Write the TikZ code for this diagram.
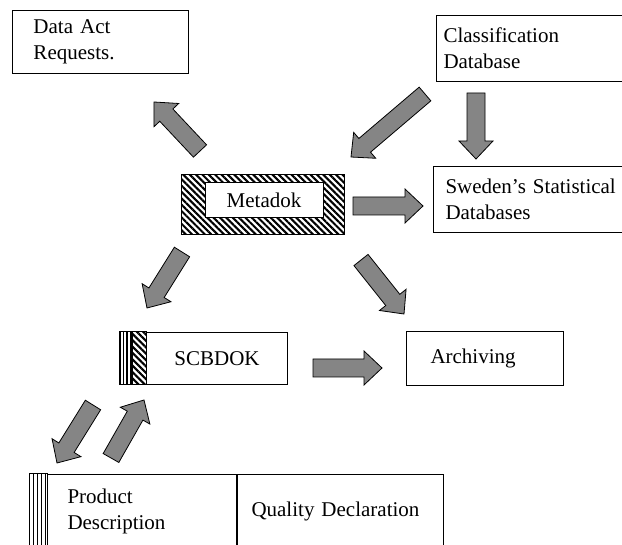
\documentclass[tikz,border=0pt]{standalone}
\usepackage{fontspec}
\setmainfont{Liberation Serif}
\usetikzlibrary{calc,patterns.meta}
\tikzset{
  box/.style={draw, line width=1pt, anchor=north west, align=left, font=\fontsize{21}{26}\selectfont},
  fat/.style={draw=black, fill=black!48, line width=0.8pt, line join=miter},
  hatch/.style={draw, line width=1pt, pattern={Lines[angle=-45,distance=4.5pt,line width=2.1pt]}},
  stripe/.style={line width=1.6pt}
}
\def\fatarrow(#1)(#2){%
  \path ($(#2)!18pt!(#1)$) coordinate (fa-h);
  \draw[fat] ($(#1)!9pt!90:(#2)$) -- ($(fa-h)!9pt!90:(#2)$) -- ($(fa-h)!17pt!90:(#2)$) -- (#2)
    -- ($(fa-h)!17pt!-90:(#2)$) -- ($(fa-h)!9pt!-90:(#2)$) -- ($(#1)!9pt!-90:(#2)$) -- cycle;}

\begin{document}
\begin{tikzpicture}[x=1pt,y=-1pt]
		%%%%% START %%%%%
		\clip (0,0) rectangle (622,545);
		\fill[white] (0,0) rectangle (622,545);
		
		\node[box, minimum width=176pt, minimum height=63pt, inner xsep=21pt, text width=134pt] (dar) at (12,10) {Data Act\\Requests.};
		\node[box, minimum width=220pt, minimum height=66pt, inner xsep=7pt, text width=206pt] (cls) at (436,15) {Classification\\Database};
		\node[box, minimum width=260pt, minimum height=66pt, inner xsep=12pt, text width=236pt] (ssd) at (433,166) {Sweden's Statistical\\Databases};
		
		\node[hatch, anchor=north west, minimum width=163pt, minimum height=60pt] (metaframe) at (180,173) {};
		\node[box, anchor=center, fill=white, minimum width=118pt, minimum height=35pt, inner sep=0pt, align=center] (meta) at (264,200.5) {Metadok};
		
		\node[box, minimum width=141pt, minimum height=52pt, align=center] (scb) at (146,332) {SCBDOK};
		\draw[line width=1pt] ($(scb.north west)+(-27,0)$) rectangle ($(scb.south west)+(-14,0)$);
		\foreach \i in {0,...,3}
			\draw[stripe] ($(scb.north west)+(-26+\i*3.6,0)$) -- ($(scb.south west)+(-26+\i*3.6,0)$);
		\draw[hatch] ($(scb.north west)+(-14,0)$) rectangle (scb.south west);
		
		\node[box, minimum width=157pt, minimum height=54pt, inner xsep=24pt, text width=109pt] (arch) at (406,331) {Archiving};
		
		\node[box, minimum width=189pt, minimum height=73pt, inner xsep=20pt, text width=149pt] (prod) at (47,474) {Product\\Description};
		\node[box, minimum width=206pt, minimum height=73pt, inner xsep=14pt, text width=178pt] (qual) at (prod.north east) {Quality Declaration};
		\draw[line width=1pt] ($(prod.north west)+(-18,0)$) rectangle (prod.south west);
		\foreach \i in {0,...,4}
			\draw[stripe] ($(prod.north west)+(-17.5+\i*4,0)$) -- ($(prod.south west)+(-17.5+\i*4,0)$);
		
		%%%%% ARROWS %%%%%
		\coordinate (m2d-s) at (200,151);  \coordinate (m2d-e) at (154,102);
		\coordinate (c2m-s) at (425,94);   \coordinate (c2m-e) at (351,157);
		\coordinate (c2s-s) at (476,93);   \coordinate (c2s-e) at (476,159);
		\coordinate (m2s-s) at (353,206);  \coordinate (m2s-e) at (423,206);
		\coordinate (m2b-s) at (182,252);  \coordinate (m2b-e) at (147,308);
		\coordinate (m2a-s) at (361,260);  \coordinate (m2a-e) at (404,314);
		\coordinate (b2a-s) at (313,368);  \coordinate (b2a-e) at (382,368);
		\coordinate (b2p-s) at (93,405);   \coordinate (b2p-e) at (57,463);
		\coordinate (p2b-s) at (111,458);  \coordinate (p2b-e) at (144,400);
		
		\fatarrow(m2d-s)(m2d-e)
		\fatarrow(c2m-s)(c2m-e)
		\fatarrow(c2s-s)(c2s-e)
		\fatarrow(m2s-s)(m2s-e)
		\fatarrow(m2b-s)(m2b-e)
		\fatarrow(m2a-s)(m2a-e)
		\fatarrow(b2a-s)(b2a-e)
		\fatarrow(b2p-s)(b2p-e)
		\fatarrow(p2b-s)(p2b-e)
		%%%%% END %%%%%
\end{tikzpicture}
\end{document}
